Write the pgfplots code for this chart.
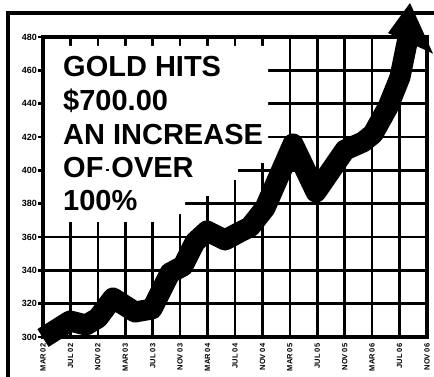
\documentclass[border=0pt]{standalone}
\usepackage{fontspec}
\setmainfont{Liberation Sans}
\usepackage{pgfplots}
\pgfplotsset{compat=1.18}
\begin{document}
\begin{tikzpicture}
\begin{axis}[
  at={(0,0)}, anchor=south west,
  width=384pt, height=300pt, scale only axis,
  xmin=0, xmax=14, ymin=300, ymax=480,
  clip=false,
  xtick={0,...,14},
  xticklabels={MAR 02,JUL 02,NOV 02,MAR 03,JUL 03,NOV 03,MAR 04,JUL 04,NOV 04,MAR 05,JUL 05,NOV 05,MAR 06,JUL 06,NOV 06},
  ytick={300,320,...,480},
  grid=major,
  major grid style={black, line width=2.6pt},
  axis line style={black, line width=3.4pt},
  xtick style={draw=none},
  ytick pos=left,
  tick align=outside,
  major tick length=5pt,
  ytick style={black, line width=2.4pt},
  /pgf/number format/assume math mode=true,
  yticklabel style={font=\bfseries\fontsize{9}{9}\selectfont, inner sep=1pt},
  xticklabel style={font=\bfseries\fontsize{7.5}{7.5}\selectfont, rotate=90, anchor=east, inner sep=1.5pt},
]
% white area behind the headline
\addplot[fill=white, draw=none] coordinates {
  (0.073,474.6) (8.203,474.6) (8.203,404.4) (7.109,404.4) (7.109,394.2)
  (6.234,394.2) (6.234,384.6) (5.177,384.6) (5.177,375) (4.266,369) (0.073,369)
} -- cycle;
% outer frame
\addplot[black, line width=3.5pt, line join=miter] coordinates {(-1.276,260) (-1.276,494.4) (14.6,494.4)};
% price line
\addplot[black, line width=21pt, line join=round] coordinates {
  (0,299.4) (0.984,309.6) (1.568,307.2) (2.005,311.4) (2.552,323.4)
  (3.354,315.0) (3.974,316.8) (4.630,338.4) (5.104,342.6) (5.542,357.0)
  (5.979,363.6) (6.635,358.2) (7.182,363.0) (7.547,366.0) (8.094,377.4)
  (9.115,415.8) (9.953,387.0) (11.010,412.2) (11.667,417.0) (12.031,421.8)
  (12.578,438.0) (13.016,456.0) (13.307,479.4)
};
% arrow head
\addplot[fill=black, draw=none] coordinates {(13.380,500.4) (12.580,482.4) (14.220,470.0)} -- cycle;
% headline
\node[anchor=base west, inner sep=0pt, font=\bfseries\fontsize{29}{29}\selectfont] at (axis cs:0.729,456) {GOLD HITS};
\node[anchor=base west, inner sep=0pt, font=\bfseries\fontsize{29}{29}\selectfont] at (axis cs:0.729,435.6) {\$700.00};
\node[anchor=base west, inner sep=0pt, font=\bfseries\fontsize{29}{29}\selectfont] at (axis cs:0.729,415.2) {AN INCREASE};
\node[anchor=base west, inner sep=0pt, font=\bfseries\fontsize{29}{29}\selectfont] at (axis cs:0.729,395.4) {OF\makebox[8pt]{\rule[7pt]{3pt}{1.5pt}}OVER};
\node[anchor=base west, inner sep=0pt, font=\bfseries\fontsize{29}{29}\selectfont] at (axis cs:0.729,375.6) {100\%};
\coordinate (bbsw) at (axis cs:-1.5677,276.6);
\coordinate (bbne) at (axis cs:14.255,502.2);
\end{axis}
\pgfresetboundingbox
\path[use as bounding box] (bbsw) rectangle (bbne);
\end{tikzpicture}
\end{document}
